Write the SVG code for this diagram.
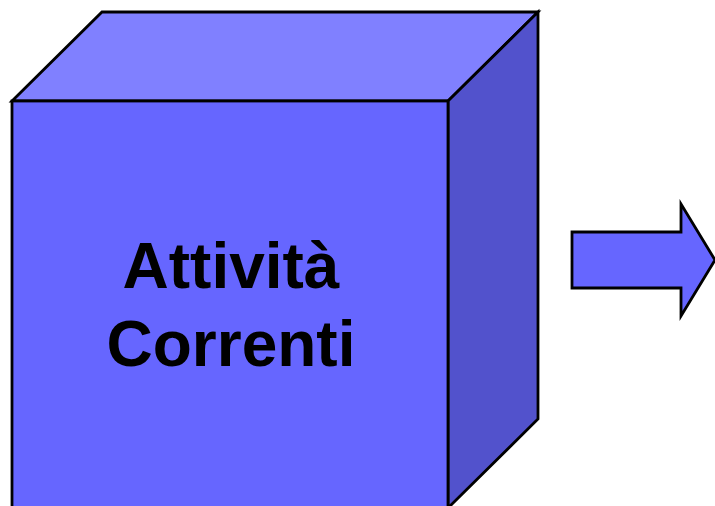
<svg xmlns="http://www.w3.org/2000/svg" width="715" height="506" viewBox="0 0 715 506">
<style>
.edge{stroke:#000;stroke-width:2.8;stroke-linejoin:miter}
.lbl{font-family:"Liberation Sans",Arial,sans-serif;font-weight:bold;font-size:64px;fill:#000;text-anchor:middle}
</style>
<rect width="715" height="506" fill="#fff"/>
<g id="cube">
<polygon class="edge" points="12,101 102,12 538,12 448,101" fill="#8080FF"/>
<polygon class="edge" points="448,101 538,12 538,419 448,508" fill="#5252CC"/>
<rect class="edge" x="12" y="101" width="436" height="410" fill="#6666FF"/>
<text class="lbl" x="231" y="288">Attività</text>
<text class="lbl" x="231" y="366">Correnti</text>
</g>
<g id="connectors">
<polygon class="edge" points="572,232 681,232 681,204 715,260 681,316 681,288 572,288" fill="#6666FF" stroke-width="2"/>
</g>
</svg>
